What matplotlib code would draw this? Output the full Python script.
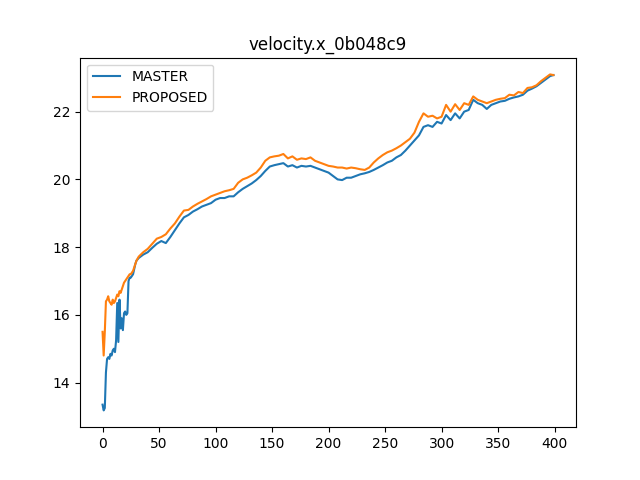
import matplotlib
matplotlib.use("Agg")
import matplotlib.pyplot as plt

# step index: every step for the first 31, then every 4th, then the last one
steps = list(range(31)) + list(range(32, 397, 4)) + [399]

master = [
    13.35, 13.18, 13.25, 14.3, 14.7, 14.75, 14.7, 14.85, 14.8, 14.95,
    15.0, 14.9, 15.25, 16.35, 15.2, 16.45, 15.6, 15.9, 15.55, 16.05,
    16.1, 16.0, 16.05, 17.0, 17.1, 17.1, 17.15, 17.2, 17.35, 17.5,
    17.6,
    17.68, 17.78, 17.85, 17.98, 18.1, 18.18, 18.12, 18.3, 18.5, 18.7,
    18.88, 18.95, 19.05, 19.12, 19.2, 19.25, 19.3, 19.4, 19.45, 19.45,
    19.5, 19.5, 19.62, 19.72, 19.8, 19.88, 19.98, 20.1, 20.25, 20.38,
    20.42, 20.45, 20.48, 20.38, 20.42, 20.35, 20.4, 20.38, 20.4, 20.35,
    20.3, 20.25, 20.2, 20.1, 20.0, 19.98, 20.05, 20.05, 20.1, 20.15,
    20.18, 20.22, 20.28, 20.35, 20.42, 20.5, 20.55, 20.65, 20.72, 20.85,
    21.0, 21.15, 21.3, 21.55, 21.6, 21.55, 21.7, 21.65, 21.9, 21.75,
    21.95, 21.8, 22.0, 22.05, 22.35, 22.25, 22.2, 22.08, 22.2, 22.25,
    22.3, 22.32, 22.38, 22.42, 22.45, 22.5, 22.62, 22.68, 22.75, 22.85,
    22.95, 23.05,
    23.08,
]

proposed = [
    15.5, 14.8, 15.5, 16.4, 16.45, 16.55, 16.4, 16.35, 16.3, 16.45,
    16.35, 16.4, 16.5, 16.6, 16.55, 16.7, 16.65, 16.75, 16.85, 16.95,
    17.0, 17.05, 17.1, 17.15, 17.2, 17.2, 17.25, 17.3, 17.4, 17.5,
    17.6,
    17.72, 17.85, 17.95, 18.1, 18.25, 18.3, 18.38, 18.55, 18.7, 18.9,
    19.08, 19.1, 19.2, 19.28, 19.35, 19.42, 19.5, 19.55, 19.6, 19.65,
    19.68, 19.72, 19.9, 20.0, 20.05, 20.12, 20.2, 20.35, 20.55, 20.65,
    20.68, 20.7, 20.75, 20.62, 20.68, 20.58, 20.62, 20.6, 20.65, 20.55,
    20.5, 20.45, 20.4, 20.38, 20.35, 20.35, 20.32, 20.35, 20.33, 20.3,
    20.28, 20.35, 20.5, 20.62, 20.72, 20.8, 20.85, 20.92, 21.0, 21.1,
    21.2, 21.38, 21.7, 21.95, 21.85, 21.88, 21.8, 21.85, 22.2, 22.0,
    22.22, 22.05, 22.25, 22.2, 22.45, 22.35, 22.3, 22.25, 22.3, 22.35,
    22.38, 22.4, 22.5, 22.48, 22.58, 22.55, 22.7, 22.72, 22.78, 22.9,
    23.0, 23.1,
    23.08,
]

fig, ax = plt.subplots(figsize=(6.4, 4.8), dpi=100)
ax.plot(steps, master, label="MASTER")
ax.plot(steps, proposed, label="PROPOSED")
ax.set_title("velocity.x_0b048c9")
ax.legend(loc="upper left")

fig.savefig("out.png")
